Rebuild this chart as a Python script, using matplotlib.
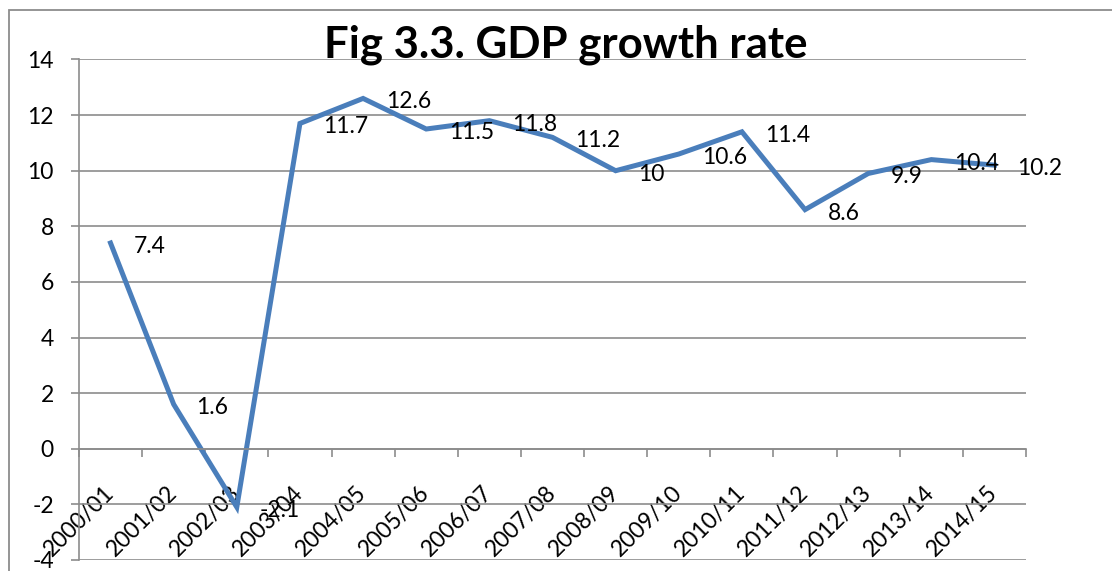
import matplotlib
matplotlib.use("Agg")
import matplotlib.pyplot as plt
from matplotlib.patches import Rectangle

# Data
years = ["2000/01", "2001/02", "2002/03", "2003/04", "2004/05", "2005/06", "2006/07",
         "2007/08", "2008/09", "2009/10", "2010/11", "2011/12", "2012/13", "2013/14", "2014/15"]
growth = [7.4, 1.6, -2.1, 11.7, 12.6, 11.5, 11.8, 11.2, 10, 10.6, 11.4, 8.6, 9.9, 10.4, 10.2]
value_labels = ["7.4", "1.6", "-2.1", "11.7", "12.6", "11.5", "11.8", "11.2", "10",
                "10.6", "11.4", "8.6", "9.9", "10.4", "10.2"]

plt.rcParams['font.family'] = ['Lato', 'DejaVu Sans']
plt.rcParams['axes.unicode_minus'] = False

fig = plt.figure(figsize=(11.12, 5.71), dpi=100)
ax = fig.add_axes([0.071, 0.0193, 0.8517, 0.8765])

# outer chart border (runs off the right and bottom edges)
fig.patches.append(Rectangle((9 / 1112, -0.1), 1.2, 1.1 - 10 / 571, transform=fig.transFigure,
                             fill=False, edgecolor="#8c8c8c", linewidth=1.3))

x = list(range(len(years)))
ax.plot(x, growth, color="#4a7ebb", linewidth=3.6, solid_joinstyle="miter")

for xi, yi, lab in zip(x, growth, value_labels):
    ax.annotate(lab, (xi, yi), xytext=(16.5, -2.5), textcoords="offset points",
                ha="left", va="center", fontsize=16.5, color="black")

ax.set_xlim(-0.5, len(years) - 0.5)
ax.set_ylim(-4, 14)
ax.set_yticks(range(-4, 15, 2))
ax.grid(axis="y", color="#8c8c8c", linewidth=1.2)
ax.set_axisbelow(True)

for s in ["top", "right"]:
    ax.spines[s].set_visible(False)
ax.spines["left"].set_color("#8c8c8c")
ax.spines["left"].set_linewidth(1.2)
ax.spines["bottom"].set_position(("data", 0))
ax.spines["bottom"].set_color("#8c8c8c")
ax.spines["bottom"].set_linewidth(1.2)

ax.set_xticks(x)
ax.set_xticks([i - 0.5 for i in range(len(years) + 1)], minor=True)
ax.set_xticklabels(years)
ax.tick_params(axis="x", which="major", length=0, pad=29, labelsize=16.5)
ax.tick_params(axis="x", which="minor", length=6, width=1.2, color="#8c8c8c", direction="out")
ax.tick_params(axis="y", length=6, width=1.2, color="#8c8c8c", labelsize=16.5, pad=12)
plt.setp(ax.get_xticklabels(), rotation=45, ha="right", va="center", rotation_mode="anchor")

fig.text(566 / 1112, 1 - 45 / 571, "Fig 3.3. GDP growth rate", ha="center", va="center",
         fontsize=31.5, fontweight="bold")

fig.savefig("out.png", dpi=100)
